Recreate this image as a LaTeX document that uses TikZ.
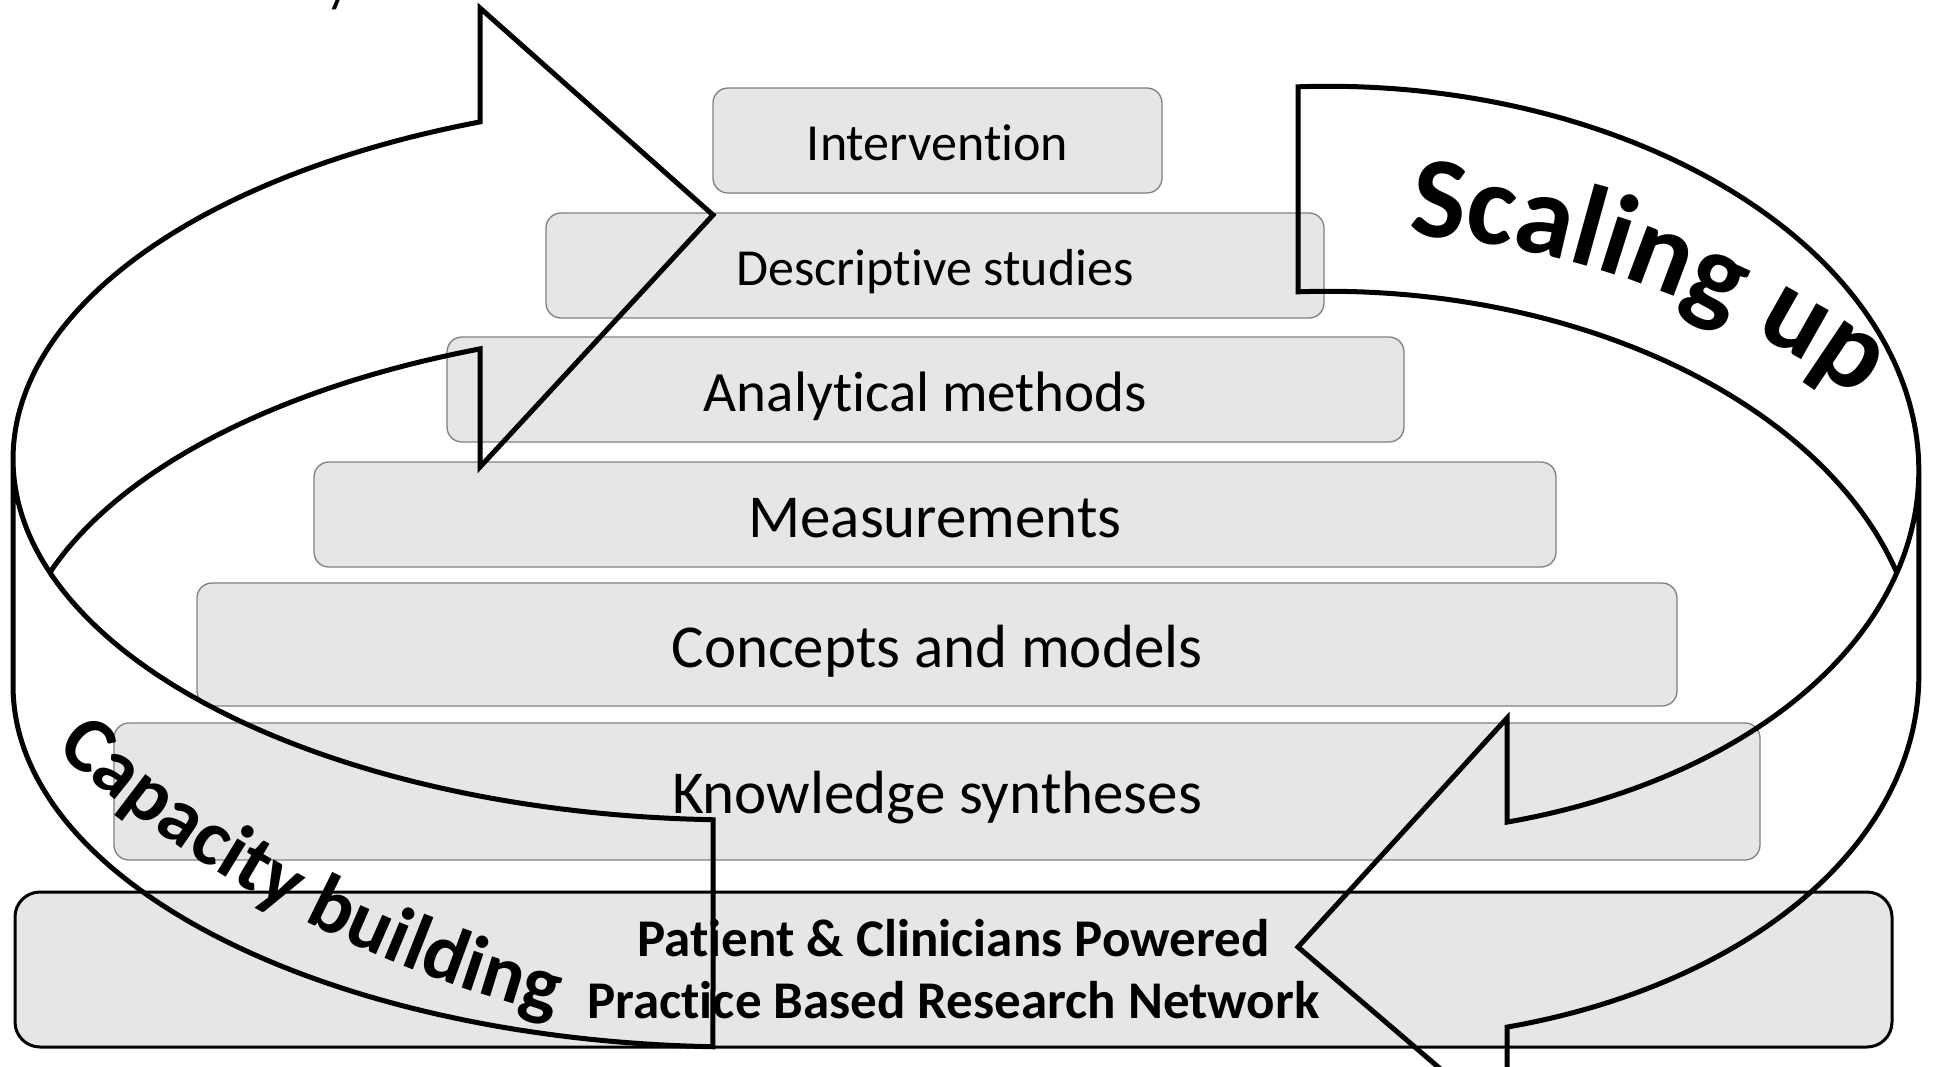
\documentclass[tikz,border=0pt]{standalone}
\usepackage{fontspec}
\setmainfont{Carlito}[Ligatures=NoCommon]
\usetikzlibrary{decorations.text}
\definecolor{boxfill}{HTML}{E6E6E6}
\definecolor{boxline}{HTML}{808080}
\newcommand\cbfont{\bfseries\fontsize{80}{80}\selectfont}
\newcommand\sufont{\bfseries\fontsize{116}{116}\selectfont}
\begin{document}
\begin{tikzpicture}[x=1pt,y=-1pt,
  tier/.style={draw=boxline, line width=1.3pt, fill=boxfill, rounded corners=15pt,
    inner sep=0pt, text depth=0pt, align=center},
  basebox/.style={draw=black, line width=3pt, fill=boxfill, rounded corners=25pt,
    inner sep=0pt, align=center},
  band/.style={draw=black, line width=5pt, line join=miter, miter limit=10}]
\useasboundingbox (0,0) rectangle (1938,1066);
\clip (0,0) rectangle (1938,1066);
\fill[white] (0,0) rectangle (1938,1066);

% pyramid tiers
\node[tier, minimum width=449pt, minimum height=105pt, text height=40pt, font=\fontsize{52}{62}\selectfont]
  (interv) at (937.5,140.5) {Intervention};
\node[tier, minimum width=778pt, minimum height=105pt, text height=40pt, font=\fontsize{52}{62}\selectfont]
  (descr) at (935,265.5) {Descriptive studies};
\node[tier, minimum width=957pt, minimum height=105pt, text height=44pt, font=\fontsize{57}{68}\selectfont]
  (analyt) at (925.5,389.5) {Analytical methods};
\node[tier, minimum width=1242pt, minimum height=105pt, text height=46pt, font=\fontsize{61}{72}\selectfont]
  (meas) at (935,514.5) {Measurements};
\node[tier, minimum width=1480pt, minimum height=123pt, text height=45pt, font=\fontsize{61}{72}\selectfont]
  (concepts) at (937,644.5) {Concepts and models};
\node[tier, minimum width=1646pt, minimum height=137pt, text height=43pt, font=\fontsize{61}{72}\selectfont]
  (knowl) at (937,791.5) {Knowledge syntheses};
\node[basebox, minimum width=1877pt, minimum height=155pt, font=\bfseries\fontsize{53}{62}\selectfont]
  (pbrn) at (953.5,969.5) {Patient \& Clinicians Powered\\Practice Based Research Network};

% arrow 1 (capacity building) head points
\coordinate (a1top) at (480,8);
\coordinate (a1tip) at (713,215);
\coordinate (a1bot) at (480,467);
\draw[band]
  plot[domain=198.37:249.05, samples=60, variable=\t] ({740+727*cos(\t)},{686+361*sin(\t)})
  -- (a1bot) -- (a1tip) -- (a1top)
  -- plot[domain=249.05:180, samples=80, variable=\t] ({740+727*cos(\t)},{459+361*sin(\t)})
  -- plot[domain=180:92.13, samples=80, variable=\t] ({740+727*cos(\t)},{686+361*sin(\t)})
  -- plot[domain=92.13:180, samples=80, variable=\t] ({740+727*cos(\t)},{459+361*sin(\t)});

% arrow 2 (scaling up) head points
\coordinate (a2up) at (1507.1,718);
\coordinate (a2tip) at (1298,947);
\coordinate (a2low) at (1507.1,1126);
\draw[band]
  plot[domain=343:264.27, samples=60, variable=\t] ({1344+574.73*cos(\t)-11.42*sin(\t)},{665.5+17.56*cos(\t)+373.83*sin(\t)})
  -- plot[domain=264.27:358.86, samples=80, variable=\t] ({1344+574.73*cos(\t)-11.42*sin(\t)},{460.5+17.56*cos(\t)+373.83*sin(\t)})
  -- plot[domain=358.86:432.37, samples=80, variable=\t] ({1344+574.73*cos(\t)-11.42*sin(\t)},{665.5+17.56*cos(\t)+373.83*sin(\t)})
  -- (a2low) -- (a2tip) -- (a2up)
  -- plot[domain=72.37:-1.14, samples=80, variable=\t] ({1344+574.73*cos(\t)-11.42*sin(\t)},{460.5+17.56*cos(\t)+373.83*sin(\t)});

% curved labels
\path[decorate, decoration={text along path, text align=center, text={|\sufont|Scaling up}}]
  plot[domain=-95:-45, samples=80, variable=\t] ({1343+883*cos(\t)},{1115+883*sin(\t)});
\path[decorate, decoration={text along path, text align=center, text={|\cbfont|Capacity building}}]
  plot[domain=142:94, samples=80, variable=\t] ({836.2+1166*cos(\t)},{-116.5+1166*sin(\t)});

% fragment of a label cut off by the top edge
\node[anchor=base west, inner sep=0pt, font=\fontsize{52}{62}\selectfont] (yfrag) at (326,1) {y};
\end{tikzpicture}
\end{document}
